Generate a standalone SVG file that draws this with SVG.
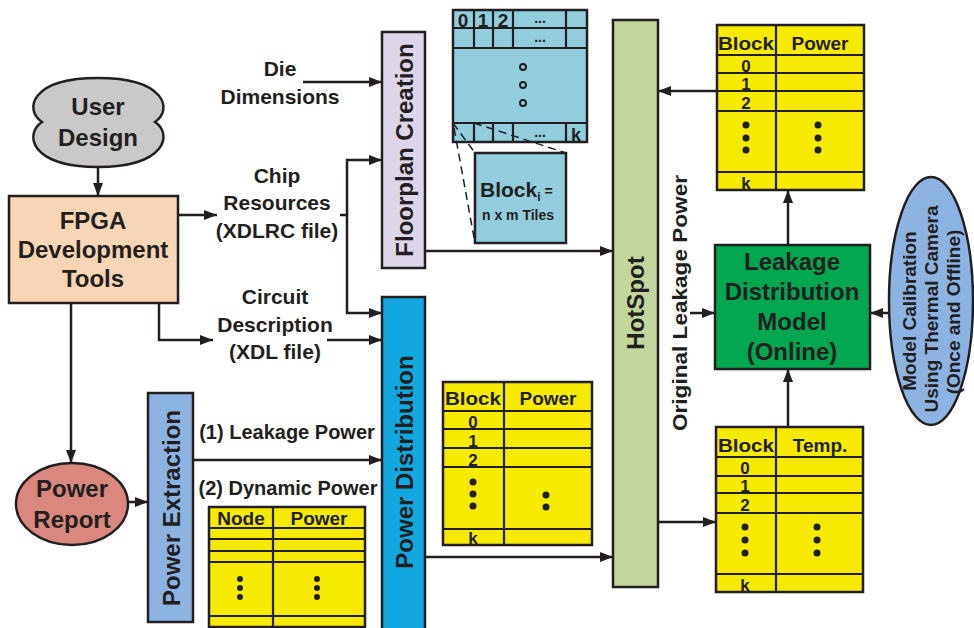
<svg xmlns="http://www.w3.org/2000/svg" width="974" height="628" viewBox="0 0 974 628">
<defs>
<marker id="ah" markerUnits="userSpaceOnUse" markerWidth="13" markerHeight="10" refX="13" refY="5" orient="auto">
<path d="M0,0 L13,5 L0,10 Z" fill="#231f20"/>
</marker>
<style>
text{font-family:"Liberation Sans",Arial,sans-serif;fill:#231f20;}
.b{font-weight:bold;}
.box{stroke:#231f20;stroke-width:2.5;}
.c{fill:none;stroke:#231f20;stroke-width:2.5;}
.ca{fill:none;stroke:#231f20;stroke-width:2.5;marker-end:url(#ah);}
.tb{fill:#f5ea00;stroke:#231f20;stroke-width:2.5;}
.tl{stroke:#231f20;stroke-width:2.2;}
.th{font-size:19px;font-weight:bold;text-anchor:middle;}
.tn{font-size:17px;font-weight:bold;text-anchor:middle;}
.big{font-size:24px;font-weight:bold;text-anchor:middle;}
.lbl{font-size:21px;font-weight:bold;text-anchor:middle;}
.dash{fill:none;stroke:#231f20;stroke-width:1.5;stroke-dasharray:8,5;}
</style>
</defs>
<rect width="974" height="628" fill="#ffffff"/>

<g id="connectors">
<path class="ca" d="M98,167 V196"/>
<path class="ca" d="M178,215 H217"/>
<path class="c" d="M340,215 H347"/>
<path class="ca" d="M347,215 V160 H382"/>
<path class="ca" d="M347,215 V313 H382"/>
<path class="ca" d="M303,82 H382"/>
<path class="ca" d="M159,303 V340 H213"/>
<path class="ca" d="M327,340 H382"/>
<path class="ca" d="M71,303 V463"/>
<path class="ca" d="M128,502 H148"/>
<path class="ca" d="M193,460 H382"/>
<path class="ca" d="M425,251 H613"/>
<path class="ca" d="M425,557 H613"/>
<path class="ca" d="M658,522 H716"/>
<path class="ca" d="M788,427 V369"/>
<path class="ca" d="M788,245 V190"/>
<path class="ca" d="M717,91 H658"/>
<path class="ca" d="M690,313 H715"/>
<path class="ca" d="M890,313 H870"/>
</g>

<g id="user-design">
<path class="box" fill="#c9c9c9" d="M42,122 C24,110 30,78 98,78 C166,78 173,110 155,122 C173,134 166,167 98,167 C30,167 24,134 42,122 Z"/>
<text class="big" x="98" y="115">User</text>
<text class="big" x="98" y="146">Design</text>
</g>

<g id="fpga-tools">
<rect class="box" x="9" y="196" width="169" height="107" fill="#f8d5b5"/>
<text class="big" x="93" y="229" font-size="25">FPGA</text>
<text class="big" x="93" y="258" font-size="25">Development</text>
<text class="big" x="93" y="287" font-size="25">Tools</text>
</g>

<g id="die-dimensions">
<text class="lbl" x="280" y="76">Die</text>
<text class="lbl" x="280" y="104">Dimensions</text>
</g>

<g id="chip-resources">
<text class="lbl" x="277" y="183">Chip</text>
<text class="lbl" x="277" y="210">Resources</text>
<text class="lbl" x="277" y="238">(XDLRC file)</text>
</g>

<g id="circuit-description">
<text class="lbl" x="275" y="304">Circuit</text>
<text class="lbl" x="275" y="332">Description</text>
<text class="lbl" x="275" y="359">(XDL file)</text>
</g>

<g id="power-report">
<ellipse class="box" cx="72" cy="504" rx="56" ry="41" fill="#d9877f"/>
<text class="big" x="72" y="497">Power</text>
<text class="big" x="72" y="528">Report</text>
</g>

<g id="power-extraction">
<rect class="box" x="148" y="393" width="45" height="229" fill="#8db3e2"/>
<text class="big" transform="translate(171,508) rotate(-90)" dominant-baseline="central">Power Extraction</text>
</g>

<g id="power-labels">
<text x="287" y="439" font-size="20" class="b" text-anchor="middle">(1) Leakage Power</text>
<text x="288" y="495" font-size="20" class="b" text-anchor="middle">(2) Dynamic Power</text>
</g>

<g id="node-table">
<rect class="tb" x="209" y="507" width="156" height="120"/>
<line class="tl" x1="273" y1="507" x2="273" y2="627"/>
<line class="tl" x1="209" y1="528" x2="365" y2="528"/>
<line class="tl" x1="209" y1="539" x2="365" y2="539"/>
<line class="tl" x1="209" y1="551" x2="365" y2="551"/>
<line class="tl" x1="209" y1="562" x2="365" y2="562"/>
<line class="tl" x1="209" y1="616" x2="365" y2="616"/>
<text class="th" x="241" y="525">Node</text>
<text class="th" x="319" y="525">Power</text>
<g fill="#231f20">
<circle cx="240" cy="579" r="3"/><circle cx="240" cy="588" r="3"/><circle cx="240" cy="597" r="3"/>
<circle cx="317" cy="579" r="3"/><circle cx="317" cy="588" r="3"/><circle cx="317" cy="597" r="3"/>
</g>
</g>

<g id="floorplan-creation">
<rect class="box" x="382" y="32" width="43" height="236" fill="#ddd5e8"/>
<text class="big" transform="translate(404,150) rotate(-90)" dominant-baseline="central">Floorplan Creation</text>
</g>

<g id="power-distribution">
<rect class="box" x="382" y="297" width="43" height="340" fill="#12a8df"/>
<text class="big" transform="translate(404,462) rotate(-90)" dominant-baseline="central">Power Distribution</text>
</g>

<g id="floorplan-grid">
<rect class="box" x="453" y="10" width="134" height="132" fill="#92cddc"/>
<line class="tl" x1="453" y1="28" x2="587" y2="28"/>
<line class="tl" x1="453" y1="48" x2="587" y2="48"/>
<line class="tl" x1="453" y1="123" x2="587" y2="123"/>
<g class="tl">
<line x1="474" y1="10" x2="474" y2="48"/><line x1="493" y1="10" x2="493" y2="48"/><line x1="513" y1="10" x2="513" y2="48"/><line x1="566" y1="10" x2="566" y2="48"/>
<line x1="474" y1="123" x2="474" y2="142"/><line x1="493" y1="123" x2="493" y2="142"/><line x1="513" y1="123" x2="513" y2="142"/><line x1="566" y1="123" x2="566" y2="142"/>
</g>
<text class="b" x="463" y="27" font-size="19" text-anchor="middle">0</text>
<text class="b" x="483" y="27" font-size="19" text-anchor="middle">1</text>
<text class="b" x="503" y="27" font-size="19" text-anchor="middle">2</text>
<text class="b" x="540" y="23" font-size="14" text-anchor="middle">...</text>
<text class="b" x="540" y="42" font-size="14" text-anchor="middle">...</text>
<text class="b" x="540" y="137" font-size="14" text-anchor="middle">...</text>
<text class="b" x="576" y="141" font-size="18" text-anchor="middle">k</text>
<g fill="#92cddc" stroke="#231f20" stroke-width="2">
<circle cx="523" cy="67" r="3"/><circle cx="523" cy="85" r="3"/><circle cx="523" cy="103" r="3"/>
</g>
</g>

<g id="block-i">
<path class="dash" d="M453,123 L475,153"/>
<path class="dash" d="M474,123 L566,153"/>
<path class="dash" d="M454,128 L475,243"/>
<rect class="box" x="475" y="153" width="91" height="90" fill="#92cddc"/>
<text x="480" y="197" font-size="21" class="b">Block<tspan font-size="12" dy="4">i</tspan><tspan font-size="14" dy="-5"> =</tspan></text>
<text x="518" y="220" font-size="14" class="b" text-anchor="middle">n x m Tiles</text>
</g>

<g id="mid-power-table">
<rect class="tb" x="443" y="382" width="149" height="163"/>
<line class="tl" x1="504" y1="382" x2="504" y2="545"/>
<line class="tl" x1="443" y1="411" x2="592" y2="411"/>
<line class="tl" x1="443" y1="429" x2="592" y2="429"/>
<line class="tl" x1="443" y1="448" x2="592" y2="448"/>
<line class="tl" x1="443" y1="467" x2="592" y2="467"/>
<line class="tl" x1="443" y1="529" x2="592" y2="529"/>
<text class="th" x="473" y="405" textLength="56" lengthAdjust="spacingAndGlyphs">Block</text>
<text class="th" x="548" y="405">Power</text>
<text class="tn" x="473" y="428">0</text>
<text class="tn" x="473" y="447">1</text>
<text class="tn" x="473" y="466">2</text>
<text class="tn" x="473" y="544">k</text>
<g fill="#231f20">
<circle cx="473" cy="482" r="3.5"/><circle cx="473" cy="494" r="3.5"/><circle cx="473" cy="506" r="3.5"/>
<circle cx="546" cy="495" r="3.5"/><circle cx="546" cy="507" r="3.5"/>
</g>
</g>

<g id="hotspot">
<rect class="box" x="613" y="20" width="45" height="567" fill="#c3d69b"/>
<text class="big" transform="translate(635,303) rotate(-90)" dominant-baseline="central">HotSpot</text>
</g>

<g id="original-leakage-label">
<text transform="translate(679,303) rotate(-90)" font-size="21" font-weight="bold" text-anchor="middle" dominant-baseline="central" textLength="256" lengthAdjust="spacingAndGlyphs">Original Leakage Power</text>
</g>

<g id="leakage-power-table">
<rect class="tb" x="717" y="25" width="147" height="165"/>
<line class="tl" x1="776" y1="25" x2="776" y2="190"/>
<line class="tl" x1="717" y1="55" x2="864" y2="55"/>
<line class="tl" x1="717" y1="73" x2="864" y2="73"/>
<line class="tl" x1="717" y1="91" x2="864" y2="91"/>
<line class="tl" x1="717" y1="111" x2="864" y2="111"/>
<line class="tl" x1="717" y1="172" x2="864" y2="172"/>
<text class="th" x="746" y="50" textLength="56" lengthAdjust="spacingAndGlyphs">Block</text>
<text class="th" x="820" y="50">Power</text>
<text class="tn" x="746" y="72">0</text>
<text class="tn" x="746" y="90">1</text>
<text class="tn" x="746" y="109">2</text>
<text class="tn" x="746" y="189">k</text>
<g fill="#231f20">
<circle cx="746" cy="125" r="3.5"/><circle cx="746" cy="138" r="3.5"/><circle cx="746" cy="150" r="3.5"/>
<circle cx="818" cy="125" r="3.5"/><circle cx="818" cy="138" r="3.5"/><circle cx="818" cy="150" r="3.5"/>
</g>
</g>

<g id="leakage-distribution-model">
<rect class="box" x="715" y="245" width="155" height="124" fill="#00a650"/>
<text class="big" x="792" y="270">Leakage</text>
<text class="big" x="792" y="300">Distribution</text>
<text class="big" x="792" y="330">Model</text>
<text class="big" x="792" y="360">(Online)</text>
</g>

<g id="model-calibration">
<ellipse class="box" cx="931" cy="301" rx="42" ry="124" fill="#8db3e2" stroke-width="1.5"/>
<text transform="translate(909,311) rotate(-90)" font-size="19" class="b" text-anchor="middle" dominant-baseline="central">Model Calibration</text>
<text transform="translate(931,309) rotate(-90)" font-size="19" class="b" text-anchor="middle" dominant-baseline="central">Using Thermal Camera</text>
<text transform="translate(953,312) rotate(-90)" font-size="19" class="b" text-anchor="middle" dominant-baseline="central">(Once and Offline)</text>
</g>

<g id="temp-table">
<rect class="tb" x="716" y="427" width="147" height="165"/>
<line class="tl" x1="776" y1="427" x2="776" y2="592"/>
<line class="tl" x1="716" y1="457" x2="863" y2="457"/>
<line class="tl" x1="716" y1="476" x2="863" y2="476"/>
<line class="tl" x1="716" y1="493" x2="863" y2="493"/>
<line class="tl" x1="716" y1="513" x2="863" y2="513"/>
<line class="tl" x1="716" y1="574" x2="863" y2="574"/>
<text class="th" x="746" y="452" textLength="56" lengthAdjust="spacingAndGlyphs">Block</text>
<text class="th" x="820" y="452">Temp.</text>
<text class="tn" x="745" y="474">0</text>
<text class="tn" x="745" y="492">1</text>
<text class="tn" x="745" y="511">2</text>
<text class="tn" x="745" y="591">k</text>
<g fill="#231f20">
<circle cx="745" cy="527" r="3.5"/><circle cx="745" cy="540" r="3.5"/><circle cx="745" cy="553" r="3.5"/>
<circle cx="817" cy="527" r="3.5"/><circle cx="817" cy="540" r="3.5"/><circle cx="817" cy="553" r="3.5"/>
</g>
</g>
</svg>
